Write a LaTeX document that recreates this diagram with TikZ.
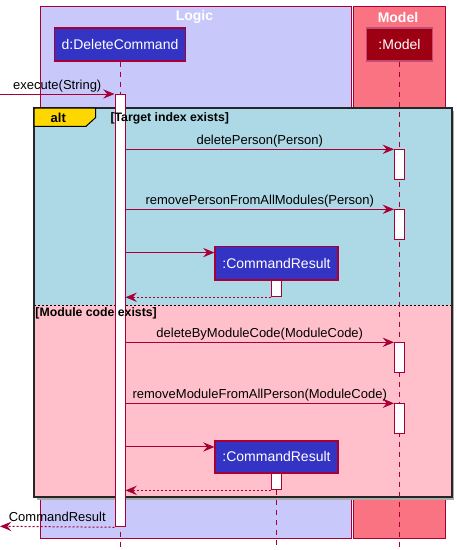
\documentclass[tikz,border=0pt]{standalone}
\usepackage{fontspec}
\setmainfont{Liberation Sans}
\usetikzlibrary{arrows.meta}
\definecolor{crim}{HTML}{A80036}
\definecolor{logicbg}{RGB}{200,200,250}
\definecolor{modelbg}{RGB}{250,115,130}
\definecolor{partblue}{HTML}{3333C4}
\definecolor{partred}{HTML}{9D0012}
\definecolor{altblue}{HTML}{ADD8E6}
\definecolor{altpink}{HTML}{FFC0CB}
\definecolor{altgold}{HTML}{FFD700}
\newcommand\msgfont{\fontsize{9.75}{11.5}\selectfont}
\newcommand\partfont{\fontsize{10.5}{12}\selectfont}
\newcommand\guardfont{\fontsize{9.2}{10.5}\selectfont\bfseries}
\begin{document}
\begin{tikzpicture}[x=0.75pt,y=-0.75pt,
  grpbox/.style={draw=crim, line width=0.75pt},
  grptitle/.style={text=white, font=\partfont\bfseries, inner sep=0pt},
  part/.style={draw=crim, line width=1.1pt, text=white, font=\partfont,
    inner sep=0pt, minimum height=24.75pt},
  bar/.style={draw=crim, fill=white, line width=0.75pt, inner sep=0pt,
    minimum width=7.5pt, anchor=north},
  lifeline/.style={draw=crim, line width=0.75pt, dash pattern=on 3.75pt off 3.75pt},
  tip/.style={-{Stealth[length=8.5pt, width=7pt, inset=3pt]}},
  msg/.style={tip, draw=crim, line width=0.75pt},
  ret/.style={tip, draw=crim, line width=0.75pt, dash pattern=on 1.5pt off 1.5pt},
  lab/.style={font=\msgfont, inner sep=0pt, anchor=base, yshift=3.75pt, text=black},
  guard/.style={font=\guardfont, inner sep=0pt, anchor=west}]
\useasboundingbox (0,0) rectangle (457,550);
\coordinate (bottom) at (0,550);

% package boxes
\draw[grpbox, fill=logicbg] (40.3,6.3) rectangle (351.7,538.3);
\draw[grpbox, fill=modelbg] (353.3,6.3) rectangle (445.7,538.3);
\node[grptitle] (logicT) at (194.5,17) {Logic};
\node[grptitle] (modelT) at (398,17) {Model};

% alt fragment
\fill[gray!65] (36.5,110.5) rectangle (454.2,499.5);
\fill[altblue] (34,108) rectangle (451.7,305);
\fill[altpink] (34,305) rectangle (451.7,497);
\draw[black, line width=0.75pt, dash pattern=on 1.5pt off 1.5pt] (34,305) -- (451.7,305);
\draw[black!85, line width=1.5pt] (34,108) rectangle (451.7,497);
\draw[black, line width=0.75pt, fill=altgold]
  (34,108) -- (95.7,108) -- (95.7,117.5) -- (86,126.3) -- (34,126.3) -- cycle;
\node[font=\msgfont\bfseries, inner sep=0pt] (altT) at (58.3,118) {alt};

% participants
\node[part, fill=partblue, minimum width=98.5pt] (dc) at (120,44.5) {d:DeleteCommand};
\node[part, fill=partred, draw=crim!70, minimum width=49.2pt] (mdl) at (399.5,44.5) {:Model};

% lifelines
\draw[lifeline] (dc.south) -- (dc.south |- bottom);
\draw[lifeline] (mdl.south) -- (mdl.south |- bottom);

% activation bars
\node[bar, minimum height=324.2pt] (dcact) at (120,94) {};
\node[bar, minimum height=22.5pt] (ma1) at (399.5,149.3) {};
\node[bar, minimum height=22.5pt] (ma2) at (399.5,209.3) {};
\node[bar, minimum height=22.5pt] (ma3) at (399.5,342.3) {};
\node[bar, minimum height=22.5pt] (ma4) at (399.5,403.3) {};

% operand guards, set over the activation bar
\node[guard] (g1) at (110.3,118.3) {[Target index exists]};
\node[guard] (g2) at (35.2,313.3) {[Module code exists]};

% created results
\node[part, fill=partblue, minimum width=92pt, minimum height=25pt] (cr1) at (276.5,263.3) {:CommandResult};
\node[bar, minimum height=12.2pt] (cra1) at (276.5,280) {};
\node[part, fill=partblue, minimum width=92pt, minimum height=23.8pt] (cr2) at (276.5,456.9) {:CommandResult};
\node[bar, minimum height=12.5pt] (cra2) at (276.5,472.7) {};
\draw[lifeline] (cra2.south) -- (cra2.south |- bottom);
\coordinate (cr1in) at ([yshift=-5pt]cr1.north west);
\coordinate (cr2in) at ([yshift=-5pt]cr2.north west);

% messages
\coordinate (entry) at (0,94);
\coordinate (exitpt) at (0,526.3);
\draw[msg] (entry) -- (dcact.north west) node[lab, midway] {execute(String)};
\draw[msg] (dcact.east |- ma1.north) -- (ma1.north west) node[lab, midway] {deletePerson(Person)};
\draw[msg] (dcact.east |- ma2.north) -- (ma2.north west) node[lab, midway] {removePersonFromAllModules(Person)};
\draw[msg] (dcact.east |- cr1in) -- (cr1in);
\draw[ret] (cra1.south west) -- (dcact.east |- cra1.south);
\draw[msg] (dcact.east |- ma3.north) -- (ma3.north west) node[lab, midway] {deleteByModuleCode(ModuleCode)};
\draw[msg] (dcact.east |- ma4.north) -- (ma4.north west) node[lab, midway] {removeModuleFromAllPerson(ModuleCode)};
\draw[msg] (dcact.east |- cr2in) -- (cr2in);
\draw[ret] (cra2.south west) -- (dcact.east |- cra2.south);
\draw[ret] (dcact.south west) -- (exitpt) node[lab, midway] {CommandResult};
\end{tikzpicture}
\end{document}
